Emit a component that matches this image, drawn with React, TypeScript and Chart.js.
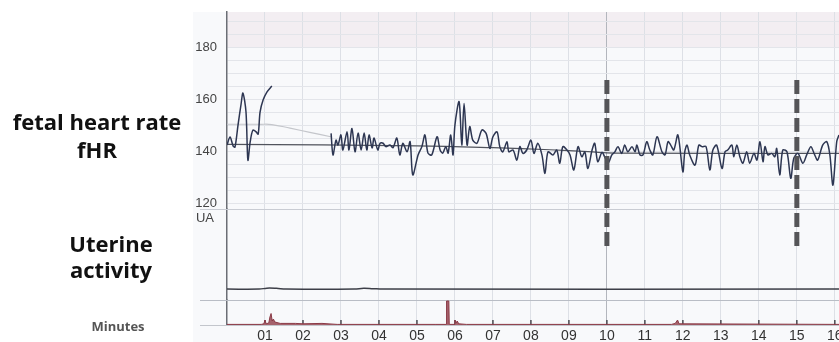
import React, { useEffect, useRef } from 'react';
import { Chart, registerables } from 'chart.js';
Chart.register(...registerables);

// ---- x axis (minutes) ----
const minuteTicks = [0, 1, 2, 3, 4, 5, 6, 7, 8, 9, 10, 11, 12, 13, 14, 15, 16];
const xMax = 16.11;

// ---- fHR axis ----
const fhrMin = 117.7;
const fhrMax = 193.5;
const fhrGridValues = [120, 125, 130, 135, 140, 145, 150, 155, 160, 165, 170, 175, 180, 185, 190];
const fhrLabelValues = [120, 140, 160, 180];
const alertBandBpm = [180, 193.5];

// fetal heart rate trace (null = signal loss)
const fhrMinutes = [
  0, 0.08, 0.16, 0.21, 0.29, 0.37, 0.42, 0.5, 0.55, 0.61, 0.68, 0.76, 0.82, 0.87, 0.95, 1.05, 1.18,
  1.5,
  2.74, 2.79, 2.87, 2.92, 3.0, 3.05, 3.16, 3.21, 3.29, 3.37, 3.45, 3.53, 3.61, 3.68, 3.74, 3.82, 3.87, 3.97,
  4.03, 4.11, 4.18, 4.29, 4.37, 4.47, 4.55, 4.63, 4.74, 4.82, 4.89, 5.03, 5.13, 5.21, 5.29, 5.39, 5.53, 5.61,
  5.68, 5.76, 5.82, 5.89, 5.95, 6.0, 6.11, 6.18, 6.24, 6.32, 6.39, 6.47, 6.58, 6.71, 6.82, 6.92, 7.0, 7.11,
  7.18, 7.26, 7.37, 7.42, 7.53, 7.63, 7.71, 7.79, 7.89, 8.0, 8.08, 8.18, 8.29, 8.37, 8.45, 8.58, 8.68, 8.76,
  8.84, 8.95, 9.03, 9.13, 9.24, 9.34, 9.42, 9.5, 9.61, 9.68, 9.76, 9.87, 9.95, 10.03, 10.13, 10.21, 10.29,
  10.39, 10.47, 10.55, 10.66, 10.74, 10.79, 10.87, 10.95, 11.05, 11.13, 11.21, 11.32, 11.45, 11.53, 11.61,
  11.68, 11.76, 11.87, 12.0, 12.05, 12.11, 12.18, 12.32, 12.42, 12.5, 12.61, 12.71, 12.79, 12.89, 13.03,
  13.11, 13.18, 13.29, 13.34, 13.42, 13.5, 13.58, 13.68, 13.76, 13.87, 13.95, 14.03, 14.11, 14.16, 14.24,
  14.34, 14.42, 14.47, 14.55, 14.63, 14.74, 14.84, 14.92, 15.03, 15.16, 15.26, 15.37, 15.47, 15.55, 15.68,
  15.79, 15.87, 15.95, 16.05, 16.11,
];
const fhrBpm = [
  142.3, 145.4, 142, 141.5, 150, 158, 162.3, 155, 136.5, 143.5, 148, 147.5, 146.5, 155, 159.6, 162.7, 165,
  null,
  146.8, 138.5, 144.2, 142.3, 146.2, 140.4, 147.4, 140.4, 148.7, 139.7, 146.9, 140.4, 146.9, 140.4, 146.2, 141.2, 145, 140.4,
  143, 143, 141.7, 142.3, 141.3, 145, 138.5, 143, 139.7, 143.6, 130.8, 138.5, 141.7, 146.2, 139.2, 138.5, 145.5, 140.4,
  139.2, 141.7, 139.2, 146.2, 138.5, 150, 159, 142.3, 158.3, 142.3, 149.4, 144.2, 143, 148.1, 146.8, 141, 145.5, 147.4,
  141.7, 139.7, 143.6, 139.7, 140.4, 136.5, 141.7, 139.1, 140.4, 144.2, 139.1, 143, 138.5, 131.4, 139.7, 138.5, 140.4, 135.3,
  141.7, 140.4, 138.5, 132.7, 141.7, 137.8, 139.7, 133.3, 140.4, 143, 135.9, 139.5, 137.5, 135.3, 138.5, 139.7, 141.7,
  139.1, 142.3, 139.7, 141.7, 139.7, 142.3, 138.5, 138.5, 143.6, 140.4, 138.5, 145.5, 139.7, 138.5, 143.6,
  142.3, 140.4, 146.2, 132, 139.7, 142.3, 138.5, 134.6, 142.3, 141.7, 141.7, 132.7, 140.4, 142.3, 133.3,
  139.7, 140.4, 142.3, 137.8, 142.3, 137.8, 135.3, 139.7, 135.3, 139.1, 136.5, 143.6, 135.9, 141.7, 138.5,
  139.1, 137.8, 141, 130.8, 140.4, 139.7, 129.5, 137.2, 139.1, 135.3, 138.5, 141.7, 138.5, 136.5, 142.3,
  143.6, 138.5, 126.9, 143.6, 146.2,
];

// light estimated curve at the start
const trendMinutes = [0, 0.87, 1.18, 1.66, 2.18, 2.76];
const trendBpm = [150.3, 150.3, 150.2, 148.8, 147.2, 145.4];

// baseline
const baselineMinutes = [0, 5, 7, 8.5, 9.5, 10.2, 16.11];
const baselineBpm = [142.6, 142.0, 141.3, 140.5, 139.8, 139.2, 139.1];

// ---- UA ----
const uaLabelValue = 90;
const uaMinutes = [0, 0.85, 1.05, 1.3, 1.55, 3.35, 3.6, 3.85, 4.1, 16.11];
const uaValues = [12, 12, 13, 12.8, 12, 12, 12.9, 12.4, 12, 12];

// ---- movement strip ----
const moveMinutes = [0, 0.9, 0.97, 1.0, 1.03, 1.1, 1.13, 1.16, 1.19, 1.22, 1.26, 1.4, 1.8, 2.0, 2.5, 2.9, 5.5, 5.77, 5.78, 5.84, 5.85, 5.98, 6.0, 6.03, 6.06, 6.1, 6.3, 11.7, 11.8, 11.86, 11.9, 16.11];
const moveValues = [0.6, 0.6, 1.2, 5, 1.2, 2, 8, 11.5, 4, 6, 3, 1.6, 1.6, 1.2, 1.6, 0.6, 0.6, 0.6, 24, 24, 0.6, 0.6, 5, 2, 4, 1.2, 0.6, 0.6, 1.6, 5, 1.2, 0.6];

// vertical markers
const markerMinutes = [10, 15];
const markerTopBpm = 167.3;
const markerBottomUa = 58;

const pairs = (xs: number[], ys: (number | null)[]) => xs.map((x, i) => ({ x, y: ys[i] }));

const decor = {
  id: 'ctgDecor',
  beforeDraw(chart: any) {
    const { ctx, chartArea } = chart;
    const yF = chart.scales.yF;
    const top = yF.getPixelForValue(alertBandBpm[1]);
    const bot = yF.getPixelForValue(alertBandBpm[0]);
    ctx.save();
    ctx.fillStyle = '#f3eef2';
    ctx.fillRect(chartArea.left, top, chartArea.right - chartArea.left, bot - top);
    ctx.restore();
  },
  beforeDatasetsDraw(chart: any) {
    const { ctx, chartArea } = chart;
    const { x, yF, yU, yB } = chart.scales;
    ctx.save();
    const lines = [
      { y: yF.bottom, c: '#c9ccd3' },
      { y: yU.bottom, c: '#b9bdc5' },
      { y: yB.bottom, c: '#c3c6cc' },
    ];
    for (const l of lines) {
      ctx.strokeStyle = l.c;
      ctx.lineWidth = 1.2;
      ctx.beginPath();
      ctx.moveTo(chartArea.left - 27, Math.round(l.y) + 0.5);
      ctx.lineTo(chartArea.right, Math.round(l.y) + 0.5);
      ctx.stroke();
    }
    ctx.strokeStyle = '#4a4a50';
    ctx.lineWidth = 1.5;
    for (const m of minuteTicks) {
      if (m === 0) continue;
      const px = x.getPixelForValue(m);
      ctx.beginPath();
      ctx.moveTo(px, yB.getPixelForValue(0));
      ctx.lineTo(px, yB.getPixelForValue(5));
      ctx.stroke();
    }
    ctx.restore();
  },
  afterDatasetsDraw(chart: any) {
    const { ctx } = chart;
    const { x, yF, yU } = chart.scales;
    ctx.save();
    ctx.strokeStyle = '#555558';
    ctx.lineWidth = 5;
    ctx.setLineDash([14, 5]);
    for (const m of markerMinutes) {
      const px = x.getPixelForValue(m);
      ctx.beginPath();
      ctx.moveTo(px, yF.getPixelForValue(markerTopBpm));
      ctx.lineTo(px, yU.getPixelForValue(markerBottomUa));
      ctx.stroke();
    }
    ctx.restore();
  },
};

const yAxisFit = (ax: any) => {
  ax.width = 227;
  ax.paddingTop = 0;
  ax.paddingBottom = 0;
};

export default function App() {
  const ref = useRef<HTMLCanvasElement>(null);
  useEffect(() => {
    if (!ref.current) return;
    const chart = new Chart(ref.current, {
      type: 'line',
      data: {
        datasets: [
          {
            data: pairs(fhrMinutes, fhrBpm) as any,
            yAxisID: 'yF',
            borderColor: '#2d3652',
            borderWidth: 1.5,
            tension: 0.3,
            spanGaps: false,
            pointRadius: 0,
          },
          {
            data: pairs(baselineMinutes, baselineBpm) as any,
            yAxisID: 'yF',
            borderColor: '#50535c',
            borderWidth: 1.2,
            tension: 0.4,
            pointRadius: 0,
          },
          {
            data: pairs(trendMinutes, trendBpm) as any,
            yAxisID: 'yF',
            borderColor: '#c4c6cb',
            borderWidth: 1.2,
            tension: 0.4,
            pointRadius: 0,
          },
          {
            data: pairs(uaMinutes, uaValues) as any,
            yAxisID: 'yU',
            borderColor: '#3d3f48',
            borderWidth: 1.5,
            tension: 0.4,
            pointRadius: 0,
          },
          {
            data: pairs(moveMinutes, moveValues) as any,
            yAxisID: 'yB',
            borderColor: '#8a3a46',
            backgroundColor: '#a5626c',
            fill: 'origin',
            borderWidth: 1,
            tension: 0,
            pointRadius: 0,
          },
        ],
      },
      options: {
        animation: false,
        responsive: false,
        maintainAspectRatio: false,
        layout: { padding: { top: 12, left: 0, right: 0, bottom: 0 } },
        plugins: { legend: { display: false }, tooltip: { enabled: false } },
        scales: {
          x: {
            type: 'linear',
            min: 0,
            max: xMax,
            afterBuildTicks: (ax: any) => {
              ax.ticks = minuteTicks.map((v) => ({ value: v }));
            },
            afterFit: (ax: any) => {
              ax.height = 17;
              ax.paddingLeft = 0;
              ax.paddingRight = 0;
            },
            ticks: {
              autoSkip: false,
              maxRotation: 0,
              padding: 3,
              color: '#333',
              font: { family: 'Liberation Sans', size: 14 },
              callback: (v: any) => (v === 0 ? '' : String(v).padStart(2, '0')),
            },
            grid: {
              drawTicks: false,
              lineWidth: 1,
              color: (c: any) =>
                c.tick && c.tick.value === 10 ? '#b3b6bd' : c.tick && c.tick.value === 0 ? 'rgba(0,0,0,0)' : '#dde0e6',
            },
            border: { display: false },
          },
          yB: {
            type: 'linear',
            position: 'left',
            stack: 'ctg',
            stackWeight: 25,
            min: 0,
            max: 25,
            afterFit: yAxisFit,
            ticks: { display: false },
            grid: { display: false },
            border: { color: '#6b6e75', width: 1.5 },
          },
          yU: {
            type: 'linear',
            position: 'left',
            stack: 'ctg',
            stackWeight: 91,
            min: 0,
            max: 100,
            afterBuildTicks: (ax: any) => {
              ax.ticks = [{ value: uaLabelValue }];
            },
            afterFit: yAxisFit,
            ticks: {
              autoSkip: false,
              padding: 5,
              color: '#444',
              font: { family: 'Liberation Sans', size: 13 },
              callback: () => 'UA',
            },
            grid: { display: false },
            border: { color: '#6b6e75', width: 1.5 },
          },
          yF: {
            type: 'linear',
            position: 'left',
            stack: 'ctg',
            stackWeight: 197,
            min: fhrMin,
            max: fhrMax,
            afterBuildTicks: (ax: any) => {
              ax.ticks = fhrGridValues.map((v) => ({ value: v }));
            },
            afterFit: yAxisFit,
            ticks: {
              autoSkip: false,
              padding: 10,
              color: '#444',
              font: { family: 'Liberation Sans', size: 13 },
              callback: (v: any) => (fhrLabelValues.includes(v) ? String(v) : ''),
            },
            grid: { drawTicks: false, color: '#e3e5ea', lineWidth: 1 },
            border: { color: '#6b6e75', width: 1.5 },
          },
        },
      } as any,
      plugins: [decor],
    });
    return () => chart.destroy();
  }, []);

  const label = (text: string, cx: number, top: number, size: number, color: string, w = 200) => (
    <div
      style={{
        position: 'absolute',
        left: cx - w / 2,
        width: w,
        top,
        textAlign: 'center',
        fontFamily: '"Open Sans", sans-serif',
        fontWeight: 700,
        fontSize: size,
        lineHeight: `${size}px`,
        color,
        whiteSpace: 'nowrap',
      }}
    >
      {text}
    </div>
  );

  return (
    <div style={{ position: 'fixed', left: 0, top: 0, width: 839, height: 342, background: '#fff', overflow: 'hidden' }}>
      <div style={{ position: 'absolute', left: 193, top: 12, width: 646, height: 330, background: '#f8f9fb' }} />
      <canvas ref={ref} width={839} height={342} style={{ position: 'absolute', left: 0, top: 0 }} />
      {label('fetal heart rate', 97, 110, 22, '#111')}
      {label('fHR', 97, 138, 22, '#111')}
      {label('Uterine', 111, 232, 22, '#111')}
      {label('activity', 111, 258, 22, '#111')}
      {label('Minutes', 118, 320, 13, '#555')}
    </div>
  );
}
